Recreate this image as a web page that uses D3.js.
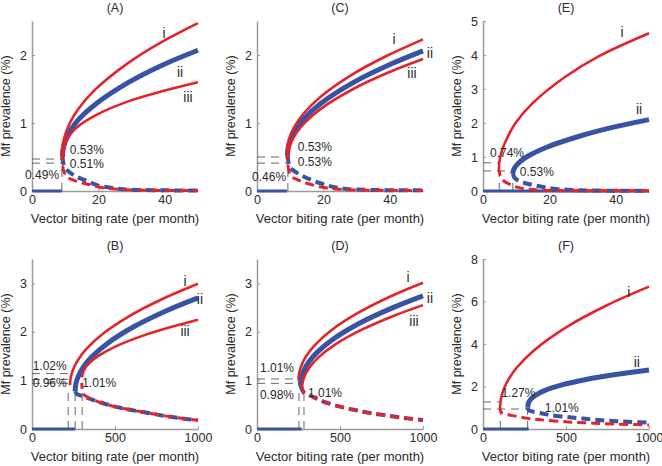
<!DOCTYPE html>
<html><head><meta charset="utf-8">
<script src="https://cdn.jsdelivr.net/npm/d3@7"></script>
<style>
body{margin:0;background:#fff}
text{font-family:"Liberation Sans",Arial,sans-serif;fill:#2a2a2a}
</style>
</head><body>
<svg id="c" width="662" height="466"></svg>
<script>
// ---------- DATA ----------
const panelIds = ["A","B","C","D","E","F"];
const panelTitles = ["(A)","(B)","(C)","(D)","(E)","(F)"];
const xMaxes = [50,1000,50,1000,50,1000];
const yMaxes = [2.5,3.5,2.5,3.5,5,8];
const xTicksMonth = [0,20,40];
const xTicksLong = [0,500,1000];
const yTicksAC = [0,1,2];
const yTicksBD = [0,1,2,3];
const yTicksE = [0,1,2,3,4,5];
const yTicksF = [0,2,4,6,8];
const xLabel = "Vector biting rate (per month)";
const yLabel = "Mf prevalence (%)";

// Panel A
const A_i   = [[9.0,0.53],[9.1,0.63],[9.4,0.72],[10,0.83],[11.5,1.01],[14,1.21],[19,1.49],[29,1.885],[39,2.19],[50,2.47]];
const A_ii  = [[9.2,0.51],[9.3,0.59],[9.6,0.66],[10.2,0.75],[11.7,0.90],[14.2,1.06],[19.2,1.28],[29.2,1.60],[39.2,1.85],[50,2.07]];
const A_iii = [[9.4,0.49],[9.5,0.59],[9.8,0.665],[10.4,0.742],[11.9,0.854],[14.4,0.97],[19.4,1.12],[29.4,1.325],[39.4,1.47],[50,1.60]];
const A_lowBlue = [[9.2,0.51],[9.6,0.38],[10.5,0.31],[13,0.22],[16,0.16],[20,0.08],[25,0.04],[30,0.02],[40,0.01],[50,0.008]];
const A_lowRed  = [[9.0,0.53],[9.5,0.3],[10.5,0.21],[13,0.15],[16,0.11],[20,0.06],[25,0.03],[30,0.015],[50,0.006]];
const A_zeroEnd = 9.0;
const A_guideH = [[0.47,9.0],[0.41,9.0]];
const A_guideV = [[9.0,0.47]];
const A_values = [["0.53%",11.4,0.60],["0.51%",11.4,0.40],["0.49%",-2.1,0.235]];
const A_names  = [["i",39.8,2.32],["ii",44.6,1.75],["iii",47.0,1.38]];

// Panel C
const C_i   = [[9.0,0.55],[9.1,0.633],[9.4,0.716],[10,0.812],[11.5,0.964],[14,1.136],[19,1.379],[29,1.722],[39,1.985],[50,2.23]];
const C_ii  = [[9.2,0.53],[9.3,0.606],[9.6,0.681],[10.2,0.77],[11.7,0.909],[14.2,1.066],[19.2,1.287],[29.2,1.601],[39.2,1.842],[50,2.06]];
const C_iii = [[9.4,0.5],[9.5,0.571],[9.8,0.643],[10.4,0.726],[11.9,0.857],[14.4,1.005],[19.4,1.215],[29.4,1.511],[39.4,1.738],[50,1.94]];
const C_lowBlue = [[9.2,0.53],[9.7,0.38],[10.5,0.32],[13,0.24],[16,0.17],[20,0.1],[23,0.06],[27,0.03],[35,0.015],[50,0.01]];
const C_lowRed  = [[9.0,0.55],[9.6,0.3],[10.5,0.21],[13,0.15],[16,0.1],[20,0.05],[25,0.025],[35,0.012],[50,0.008]];
const C_zeroEnd = 9.0;
const C_guideH = [[0.50,9.0],[0.41,9.2]];
const C_guideV = [[9.3,0.5]];
const C_values = [["0.53%",12.3,0.647],["0.53%",12.3,0.426],["0.46%",-1.5,0.206]];
const C_names  = [["i",41.3,2.24],["ii",52.1,2.03],["iii",46.7,1.74]];

// Panel E
const E_i   = [[4.8,0.62],[4.9,0.81],[5.2,1.0],[5.8,1.218],[7.3,1.565],[9.8,2.0],[14.8,2.57],[24.8,3.36],[34.8,3.96],[50,4.64]];
const E_ii  = [[9.0,0.5],[9.1,0.58],[9.4,0.66],[10.0,0.75],[11.5,0.89],[14.0,1.05],[19.0,1.28],[29.0,1.61],[39.0,1.87],[50,2.1]];
const E_lowBlue = [[9.0,0.5],[9.6,0.38],[11,0.29],[14,0.2],[18,0.12],[22,0.06],[27,0.03],[35,0.012],[50,0.006]];
const E_lowRed  = [[4.8,0.62],[5.5,0.38],[6.5,0.28],[8,0.2],[10,0.12],[13,0.06],[18,0.025],[25,0.01],[50,0.005]];
const E_zeroEnd = 50;
const E_guideH = [[0.83,4.8],[0.59,9.0]];
const E_guideV = [[4.9,0.83],[9.0,0.59]];
const E_values = [["0.74%",2.1,1.12],["0.53%",11.1,0.56]];
const E_names  = [["i",41.9,4.67],["ii",47.0,2.40]];

// Panel B
const B_i   = [[229,0.9],[231,1.006],[237,1.113],[254,1.277],[279,1.432],[329,1.653],[429,1.965],[579,2.309],[779,2.666],[1000,2.99]];
const B_ii  = [[260,0.78],[262,0.88],[268,0.98],[285,1.133],[310,1.279],[360,1.486],[460,1.778],[610,2.101],[810,2.436],[1000,2.70]];
const B_iii = [[302,1.06],[304,1.124],[310,1.187],[327,1.285],[352,1.378],[402,1.51],[502,1.696],[652,1.902],[852,2.115],[1000,2.25]];
const B_lowBlue = [[260,0.78],[270,0.72],[290,0.69],[320,0.66],[350,0.62],[400,0.56],[500,0.46],[600,0.39],[700,0.33],[800,0.27],[900,0.22],[1000,0.18]];
const B_lowRed  = [[300,0.95],[304,0.78],[315,0.7],[350,0.63],[400,0.56],[500,0.46],[600,0.39],[700,0.33],[800,0.27],[900,0.22],[1000,0.18]];
const B_zeroEnd = 260;
const B_guideH = [[1.14,240],[1.02,228],[0.94,225]];
const B_guideV = [[218,0.85],[260,0.72],[302,0.95]];
const B_values = [["1.02%",4,1.31],["0.96%",4,0.96],["1.01%",302,0.96]];
const B_names  = [["i",922,3.05],["ii",1012,2.68],["iii",922,2.02]];

// Panel D
const D_i   = [[250,1.0],[252,1.104],[258,1.208],[275,1.367],[300,1.519],[350,1.734],[450,2.038],[600,2.373],[800,2.722],[1000,3.01]];
const D_ii  = [[262,0.9],[264,0.996],[270,1.091],[287,1.239],[312,1.379],[362,1.577],[462,1.857],[612,2.167],[812,2.488],[1000,2.74]];
const D_iii = [[272,0.85],[274,0.939],[280,1.028],[297,1.165],[322,1.295],[372,1.48],[472,1.741],[622,2.029],[822,2.327],[1000,2.55]];
const D_lowBlue = [[262,0.9],[272,0.8],[285,0.74],[320,0.69],[350,0.64],[400,0.565],[500,0.46],[600,0.385],[700,0.32],[800,0.27],[900,0.22],[1000,0.185]];
const D_lowRed  = [[272,0.85],[280,0.78],[290,0.74],[320,0.69],[350,0.64],[400,0.56],[500,0.46],[600,0.38],[700,0.32],[800,0.27],[900,0.22],[1000,0.18]];
const D_zeroEnd = 270;
const D_guideH = [[1.03,260],[0.94,260]];
const D_guideV = [[253,1.0],[283,0.8]];
const D_values = [["1.01%",18,1.25],["0.98%",18,0.70],["1.01%",307,0.74]];
const D_names  = [["i",910,3.12],["ii",1042,2.69],["iii",946,2.22]];

// Panel F
const F_i   = [[103,0.97],[105,1.24],[111,1.511],[128,1.927],[153,2.323],[203,2.883],[303,3.675],[503,4.796],[753,5.847],[1000,6.7]];
const F_ii  = [[270,1.0],[272,1.168],[278,1.293],[295,1.462],[320,1.609],[370,1.804],[470,2.061],[620,2.331],[820,2.591],[1000,2.78]];
const F_lowBlue = [[270,1.0],[275,0.89],[300,0.82],[350,0.74],[400,0.66],[500,0.57],[600,0.49],[700,0.42],[800,0.37],[900,0.33],[1000,0.3]];
const F_lowRed  = [[103,0.97],[108,0.8],[130,0.72],[160,0.66],[200,0.6],[270,0.5],[350,0.43],[500,0.34],[650,0.28],[800,0.23],[1000,0.19]];
const F_zeroEnd = 275;
const F_guideH = [[1.27,110],[0.94,269]];
const F_guideV = [[104,1.22],[269,0.94]];
const F_values = [["1.27%",111,1.69],["1.01%",372,0.99]];
const F_names  = [["i",879,6.45],["ii",927,3.15]];

// ---------- BUILD ----------
const RED = "#e3242b", BLUE = "#3853a4", AXIS = "#9a9a9a";
const colLeft = [32,257,483], rowTop = [21,259], PW = 166, PH = 170;

const panels = [
  {k:0,col:0,row:0,xt:xTicksMonth,yt:yTicksAC,up:[[A_ii,"b"],[A_iii,"r"],[A_i,"r"]],lb:A_lowBlue,lr:A_lowRed,z:A_zeroEnd,gh:A_guideH,gv:A_guideV,vl:A_values,nm:A_names},
  {k:1,col:0,row:1,xt:xTicksLong,yt:yTicksBD,up:[[B_ii,"b"],[B_iii,"r"],[B_i,"r"]],lb:B_lowBlue,lr:B_lowRed,z:B_zeroEnd,gh:B_guideH,gv:B_guideV,vl:B_values,nm:B_names},
  {k:2,col:1,row:0,xt:xTicksMonth,yt:yTicksAC,up:[[C_ii,"b"],[C_iii,"r"],[C_i,"r"]],lb:C_lowBlue,lr:C_lowRed,z:C_zeroEnd,gh:C_guideH,gv:C_guideV,vl:C_values,nm:C_names},
  {k:3,col:1,row:1,xt:xTicksLong,yt:yTicksBD,up:[[D_ii,"b"],[D_iii,"r"],[D_i,"r"]],lb:D_lowBlue,lr:D_lowRed,z:D_zeroEnd,gh:D_guideH,gv:D_guideV,vl:D_values,nm:D_names},
  {k:4,col:2,row:0,xt:xTicksMonth,yt:yTicksE,up:[[E_ii,"b"],[E_i,"r"]],lb:E_lowBlue,lr:E_lowRed,z:E_zeroEnd,gh:E_guideH,gv:E_guideV,vl:E_values,nm:E_names},
  {k:5,col:2,row:1,xt:xTicksLong,yt:yTicksF,up:[[F_ii,"b"],[F_i,"r"]],lb:F_lowBlue,lr:F_lowRed,z:F_zeroEnd,gh:F_guideH,gv:F_guideV,vl:F_values,nm:F_names}
];

const svg = d3.select("#c");
const FONT = "Liberation Sans, Arial, sans-serif";

panels.forEach(p => {
  const L = colLeft[p.col], T = rowTop[p.row];
  const g = svg.append("g").attr("transform",`translate(${L},${T})`);
  const x = d3.scaleLinear().domain([0,xMaxes[p.k]]).range([0,PW]);
  const y = d3.scaleLinear().domain([0,yMaxes[p.k]]).range([PH,0]);
  const fmt = d => String(d);

  // axes
  const xa = g.append("g").attr("transform",`translate(0,${PH})`)
    .call(d3.axisBottom(x).tickValues(p.xt).tickFormat(fmt).tickSizeInner(-3).tickSizeOuter(0).tickPadding(4));
  const ya = g.append("g")
    .call(d3.axisLeft(y).tickValues(p.yt).tickFormat(fmt).tickSizeInner(-3).tickSizeOuter(0).tickPadding(5));
  [xa,ya].forEach(a=>{
    a.attr("font-family",FONT).attr("font-size",12.5);
    a.select(".domain").attr("stroke",AXIS).attr("stroke-width",1.5);
    a.selectAll(".tick line").attr("stroke",AXIS).attr("stroke-width",1);
    a.selectAll(".tick text").attr("fill","#2a2a2a");
  });

  // title and axis labels
  g.append("text").attr("x",PW/2).attr("y",-9.5).attr("text-anchor","middle").attr("font-size",12.5).text(panelTitles[p.k]);
  g.append("text").attr("x",PW/2).attr("y",PH+32).attr("text-anchor","middle").attr("font-size",13).text(xLabel);
  g.append("text").attr("transform",`translate(-22,${PH/2}) rotate(-90)`).attr("text-anchor","middle").attr("font-size",12.5).text(yLabel);

  // guide lines
  p.gh.forEach(d=>{
    g.append("line").attr("x1",x(0)).attr("x2",x(d[1])).attr("y1",y(d[0])).attr("y2",y(d[0]))
      .attr("stroke","#555").attr("stroke-width",0.9).attr("stroke-dasharray","8,6");
  });
  p.gv.forEach(d=>{
    g.append("line").attr("x1",x(d[0])).attr("x2",x(d[0])).attr("y1",y(0)).attr("y2",y(d[1]))
      .attr("stroke","#555").attr("stroke-width",0.9).attr("stroke-dasharray","8,6");
  });

  const line = d3.line().x(d=>x(d[0])).y(d=>y(d[1])).curve(d3.curveCatmullRom.alpha(0.5));

  // zero line (stable)
  g.append("line").attr("x1",x(0)).attr("x2",x(p.z)).attr("y1",y(0)).attr("y2",y(0))
    .attr("stroke",BLUE).attr("stroke-width",3);

  // unstable (dashed) branches
  g.append("path").attr("d",line(p.lb)).attr("fill","none").attr("stroke",BLUE)
    .attr("stroke-width",4).attr("stroke-dasharray","9,5");
  g.append("path").attr("d",line(p.lr)).attr("fill","none").attr("stroke",RED)
    .attr("stroke-width",3).attr("stroke-dasharray","9,5").attr("stroke-dashoffset",3);

  // stable upper branches
  p.up.forEach(([data,c])=>{
    g.append("path").attr("d",line(data)).attr("fill","none")
      .attr("stroke",c==="b"?BLUE:RED).attr("stroke-width",c==="b"?5:2.6).attr("stroke-linecap","butt");
  });

  // value labels
  p.vl.forEach(d=>{
    g.append("text").attr("x",x(d[1])).attr("y",y(d[2])).attr("dy","0.35em")
      .attr("font-size",12).text(d[0]);
  });
  // curve names
  p.nm.forEach(d=>{
    g.append("text").attr("x",x(d[1])).attr("y",y(d[2])).attr("dy","0.35em")
      .attr("text-anchor","middle").attr("font-size",14).text(d[0]);
  });
});
</script>
</body></html>
